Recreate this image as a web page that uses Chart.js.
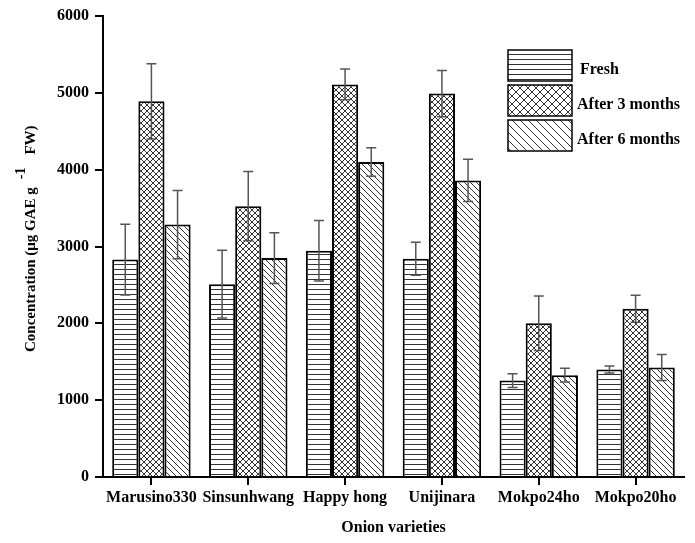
<!DOCTYPE html>
<html>
<head>
<meta charset="utf-8">
<script src="https://cdn.jsdelivr.net/npm/chart.js@4/dist/chart.umd.min.js"></script>
<style>
  html, body { margin: 0; padding: 0; background: #fff; }
</style>
</head>
<body>
<canvas id="chart" width="695" height="543"></canvas>
<script>
// data
const varieties = ['Marusino330', 'Sinsunhwang', 'Happy hong', 'Unijinara', 'Mokpo24ho', 'Mokpo20ho'];
const fresh     = [2830, 2510, 2945, 2840, 1255, 1400];
const freshErr  = [460, 440, 395, 215, 90, 45];
const after3    = [4890, 3525, 5110, 4990, 2000, 2190];
const after3Err = [490, 450, 200, 300, 355, 175];
const after6    = [3285, 2850, 4100, 3860, 1325, 1425];
const after6Err = [445, 330, 185, 275, 90, 170];
const yTicks    = [0, 1000, 2000, 3000, 4000, 5000, 6000];

const serif = '"Liberation Serif", "Times New Roman", serif';
const canvas = document.getElementById('chart');
const ctx = canvas.getContext('2d');

// hatch fills
function makePattern(kind, p) {
    const c = document.createElement('canvas');
    c.width = p; c.height = p;
    const g = c.getContext('2d');
    g.fillStyle = '#fff';
    g.fillRect(0, 0, p, p);
    g.strokeStyle = '#333';
    g.lineWidth = 1;
    g.beginPath();
    if (kind === 'h') {
        g.moveTo(0, p - 0.5); g.lineTo(p, p - 0.5);
    }
    if (kind === 'back' || kind === 'cross') {
        g.moveTo(-1, -1); g.lineTo(p + 1, p + 1);
        g.moveTo(-2, p - 2); g.lineTo(2, p + 2);
        g.moveTo(p - 2, -2); g.lineTo(p + 2, 2);
    }
    if (kind === 'cross') {
        g.moveTo(-1, p + 1); g.lineTo(p + 1, -1);
        g.moveTo(-2, 2); g.lineTo(2, -2);
        g.moveTo(p - 2, p + 2); g.lineTo(p + 2, p - 2);
    }
    g.stroke();
    return ctx.createPattern(c, 'repeat');
}

const fills = [makePattern('h', 5), makePattern('cross', 6), makePattern('back', 6)];
const legendFills = [makePattern('h', 5), makePattern('cross', 8), makePattern('back', 8)];

// error bars on top of each bar
const errorBars = {
    id: 'errorBars',
    afterDatasetsDraw(chart) {
        const c = chart.ctx, y = chart.scales.y;
        c.save();
        c.strokeStyle = '#555';
        c.lineWidth = 1.5;
        chart.data.datasets.forEach((ds, i) => {
            chart.getDatasetMeta(i).data.forEach((bar, j) => {
                const hi = y.getPixelForValue(ds.data[j] + ds.err[j]);
                const lo = y.getPixelForValue(ds.data[j] - ds.err[j]);
                c.beginPath();
                c.moveTo(bar.x, hi); c.lineTo(bar.x, lo);
                c.moveTo(bar.x - 5, hi); c.lineTo(bar.x + 5, hi);
                c.moveTo(bar.x - 5, lo); c.lineTo(bar.x + 5, lo);
                c.stroke();
            });
        });
        c.restore();
    }
};

// legend boxes inside the plot, top right
const hatchLegend = {
    id: 'hatchLegend',
    afterDraw(chart) {
        const c = chart.ctx;
        const left = chart.chartArea.right - 176;
        c.save();
        c.font = 'bold 16px ' + serif;
        c.textBaseline = 'middle';
        c.fillStyle = '#000';
        chart.data.datasets.forEach((ds, i) => {
            const top = 50 + i * 35;
            c.fillStyle = legendFills[i];
            c.fillRect(left, top, 64, 31);
            c.strokeStyle = '#000';
            c.lineWidth = 1.5;
            c.strokeRect(left, top, 64, 31);
            c.fillStyle = '#000';
            c.fillText(ds.label, left + (i === 0 ? 72 : 69), top + 20);
        });
        c.restore();
    }
};

// rotated y title with superscript
const yTitle = {
    id: 'yTitle',
    afterDraw(chart) {
        const c = chart.ctx;
        c.save();
        c.translate(35, 352);
        c.rotate(-Math.PI / 2);
        c.fillStyle = '#000';
        c.textAlign = 'left';
        c.textBaseline = 'alphabetic';
        c.font = 'bold 15px ' + serif;
        const a = 'Concentration (\u03bcg GAE g';
        c.fillText(a, 0, 0);
        let x = c.measureText(a).width + 8;
        c.font = 'bold 14px ' + serif;
        c.fillText('-1', x, -10);
        x += c.measureText('-1').width + 13;
        c.font = 'bold 15px ' + serif;
        c.fillText('FW)', x, 0);
        c.restore();
    }
};

new Chart(ctx, {
    type: 'bar',
    data: {
        labels: varieties,
        datasets: [
            { label: 'Fresh', data: fresh, err: freshErr, backgroundColor: fills[0] },
            { label: 'After 3 months', data: after3, err: after3Err, backgroundColor: fills[1] },
            { label: 'After 6 months', data: after6, err: after6Err, backgroundColor: fills[2] }
        ]
    },
    options: {
        responsive: false,
        animation: false,
        layout: { padding: { top: 16, right: 11, left: 0, bottom: 0 } },
        datasets: {
            bar: {
                categoryPercentage: 0.81,
                barPercentage: 1,
                borderColor: '#000',
                borderWidth: 2
            }
        },
        plugins: {
            legend: { display: false },
            tooltip: { enabled: false }
        },
        scales: {
            x: {
                grid: { drawOnChartArea: false, offset: false, tickLength: 8, color: '#000', lineWidth: 2 },
                border: { color: '#000', width: 2 },
                ticks: { color: '#000', font: { family: serif, weight: 'bold', size: 16 }, padding: 3, maxRotation: 0, autoSkip: false },
                title: {
                    display: true,
                    text: 'Onion varieties',
                    color: '#000',
                    font: { family: serif, weight: 'bold', size: 16 },
                    padding: { top: 2, bottom: 6 }
                },
                afterFit(s) { s.height = 66; }
            },
            y: {
                min: 0,
                max: 6000,
                afterBuildTicks(s) { s.ticks = yTicks.map(v => ({ value: v })); },
                grid: { drawOnChartArea: false, tickLength: 8, color: '#000', lineWidth: 2 },
                border: { color: '#000', width: 2 },
                ticks: {
                    color: '#000',
                    font: { family: serif, weight: 'bold', size: 16 },
                    padding: 6,
                    callback: v => String(v)
                },
                afterFit(s) { s.width = 103; }
            }
        }
    },
    plugins: [errorBars, hatchLegend, yTitle]
});
</script>
</body>
</html>
